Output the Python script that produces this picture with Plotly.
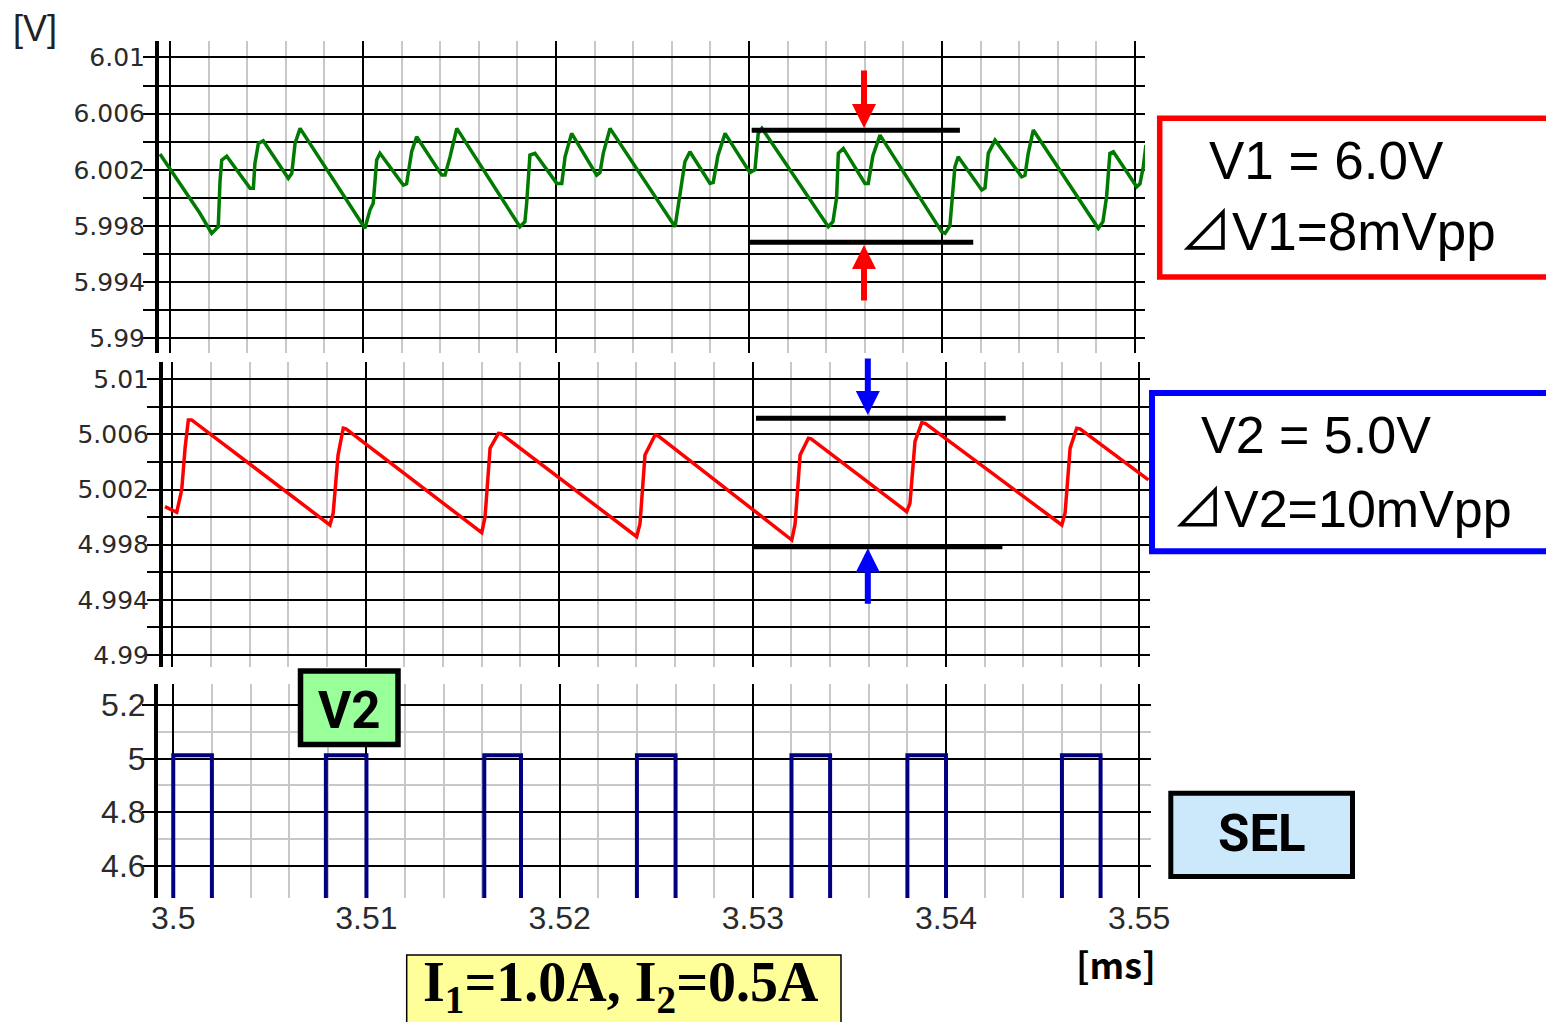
import plotly.graph_objects as go

W, H = 1546, 1022

# ---- V1 output ripple (time in ms, voltage in V) ----
v1_time = [3.49948, 3.50155, 3.50216, 3.50250, 3.50259, 3.50268, 3.50294, 3.50415, 3.50432, 3.50440,
           3.50458, 3.50483, 3.50613, 3.50631, 3.50648, 3.50674,
           3.51010, 3.51036, 3.51053, 3.51071, 3.51088, 3.51209, 3.51226, 3.51252, 3.51278, 3.51408,
           3.51425, 3.51451, 3.51486,
           3.51813, 3.51839, 3.51848, 3.51865, 3.51891, 3.52004, 3.52030, 3.52047, 3.52081, 3.52211,
           3.52228, 3.52245, 3.52280,
           3.52617, 3.52634, 3.52668, 3.52694, 3.52798, 3.52815, 3.52839, 3.52876, 3.53005, 3.53031,
           3.53048, 3.53067,
           3.53411, 3.53435, 3.53454, 3.53463, 3.53489, 3.53601, 3.53618, 3.53642, 3.53679,
           3.53998, 3.54016, 3.54041, 3.54050, 3.54067, 3.54084, 3.54206, 3.54223, 3.54240, 3.54275,
           3.54413, 3.54430, 3.54447, 3.54473,
           3.54810, 3.54834, 3.54853, 3.54870, 3.54888, 3.55009, 3.55026, 3.55043, 3.55057]
v1_volt = [6.00312, 5.99890, 5.99747, 5.99794, 6.00115, 6.00269, 6.00297, 6.00068, 6.00068, 6.00245,
           6.00388, 6.00406, 6.00139, 6.00174, 6.00388, 6.00495,
           5.99783, 5.99913, 5.99961, 6.00269, 6.00317, 6.00091, 6.00100, 6.00328, 6.00435, 6.00162,
           6.00162, 6.00292, 6.00495,
           5.99794, 5.99830, 5.99961, 6.00305, 6.00317, 6.00103, 6.00103, 6.00292, 6.00459, 6.00162,
           6.00180, 6.00317, 6.00495,
           5.99794, 5.99949, 6.00257, 6.00328, 6.00103, 6.00110, 6.00300, 6.00459, 6.00180, 6.00200,
           6.00459, 6.00495,
           5.99794, 5.99830, 6.00000, 6.00317, 6.00352, 6.00103, 6.00103, 6.00300, 6.00447,
           5.99759, 5.99747, 5.99800, 5.99961, 6.00221, 6.00292, 6.00056, 6.00070, 6.00317, 6.00411,
           6.00150, 6.00160, 6.00317, 6.00483,
           5.99783, 5.99830, 6.00008, 6.00317, 6.00328, 6.00079, 6.00100, 6.00221, 6.00376]

# ---- V2 output ripple ----
v2_time = [3.49962, 3.50023, 3.50049, 3.50066, 3.50083, 3.50100,
           3.50815, 3.50832, 3.50857, 3.50884, 3.50898,
           3.51600, 3.51617, 3.51643, 3.51686, 3.51700,
           3.52401, 3.52418, 3.52444, 3.52496, 3.52512,
           3.53203, 3.53220, 3.53246, 3.53289, 3.53303,
           3.53797, 3.53814, 3.53840, 3.53875, 3.53893,
           3.54599, 3.54616, 3.54642, 3.54676, 3.54693,
           3.55047]
v2_volt = [5.00076, 5.00035, 5.00200, 5.00500, 5.00705, 5.00705,
           4.99943, 5.00030, 5.00450, 5.00645, 5.00640,
           4.99887, 5.00000, 5.00500, 5.00608, 5.00605,
           4.99858, 4.99950, 5.00450, 5.00596, 5.00590,
           4.99834, 4.99950, 5.00450, 5.00572, 5.00568,
           5.00040, 5.00100, 5.00550, 5.00685, 5.00680,
           4.99943, 5.00030, 5.00500, 5.00645, 5.00640,
           5.00270]

# ---- SEL gate pulses (ms) ----
sel_rise = [3.5000, 3.5079, 3.5161, 3.5240, 3.5320, 3.5380, 3.5460]
sel_fall = [3.5020, 3.5100, 3.5180, 3.5260, 3.5340, 3.5400, 3.5480]
sel_high = 5.012
sel_low = 0.0

# ---- axis ticks ----
time_ticks = [3.5, 3.51, 3.52, 3.53, 3.54, 3.55]
time_labels = ["3.5", "3.51", "3.52", "3.53", "3.54", "3.55"]
v1_ticks = [5.99, 5.992, 5.994, 5.996, 5.998, 6.0, 6.002, 6.004, 6.006, 6.008, 6.01]
v1_labels = ["5.99", "", "5.994", "", "5.998", "", "6.002", "", "6.006", "", "6.01"]
v2_ticks = [4.99, 4.992, 4.994, 4.996, 4.998, 5.0, 5.002, 5.004, 5.006, 5.008, 5.01]
v2_labels = ["4.99", "", "4.994", "", "4.998", "", "5.002", "", "5.006", "", "5.01"]
sel_ticks = [4.6, 4.8, 5.0, 5.2]
sel_labels = ["4.6", "4.8", "5", "5.2"]
sel_minor = [4.7, 4.9, 5.1]


def px(x):
    return x / W


def py(y):
    return 1 - y / H


# step waveform for the SEL signal
sel_t = [3.49]
sel_v = [sel_low]
for r, f in zip(sel_rise, sel_fall):
    sel_t += [r, r, f, f]
    sel_v += [sel_low, sel_high, sel_high, sel_low]
sel_t.append(3.56)
sel_v.append(sel_low)

GRID_GRAY = "#c8c8c8"
TICK_FONT_SMALL = dict(family="DejaVu Sans", size=25, color="#2a2a2a")
TICK_FONT_BIG = dict(family="Liberation Sans", size=32, color="#2a2a2a")

fig = go.Figure()
fig.add_trace(go.Scatter(x=v1_time, y=v1_volt, mode="lines", xaxis="x", yaxis="y",
                         line=dict(color="#007a00", width=3.5), showlegend=False))
fig.add_trace(go.Scatter(x=v2_time, y=v2_volt, mode="lines", xaxis="x2", yaxis="y2",
                         line=dict(color="#ff0000", width=3.5), showlegend=False))
fig.add_trace(go.Scatter(x=sel_t, y=sel_v, mode="lines", xaxis="x3", yaxis="y3",
                         line=dict(color="#000080", width=4), showlegend=False))


def time_axis(x0, x1, rng, anchor, labels):
    return dict(domain=[px(x0), px(x1)], range=rng, anchor=anchor,
                tickmode="array", tickvals=time_ticks, ticktext=time_labels,
                showticklabels=labels, ticks="", tickfont=TICK_FONT_BIG, ticklabelstandoff=-2,
                showgrid=True, gridcolor="black", gridwidth=2,
                zeroline=False, showline=False,
                minor=dict(tickmode="linear", tick0=3.5, dtick=0.002, showgrid=True,
                           gridcolor=GRID_GRAY, gridwidth=2, ticks=""))


def volt_axis(y_top, y_bot, rng, anchor, vals, texts, font, standoff, minor=None):
    d = dict(domain=[py(y_bot), py(y_top)], range=rng, anchor=anchor,
             tickmode="array", tickvals=vals, ticktext=texts, tickfont=font,
             ticklabelstandoff=standoff,
             ticks="outside", ticklen=12, tickwidth=2, tickcolor="black",
             showgrid=True, gridcolor="black", gridwidth=2, zeroline=False,
             showline=True, linecolor="black", linewidth=4)
    if minor is not None:
        d["minor"] = dict(tickmode="array", tickvals=minor, showgrid=True,
                          gridcolor=GRID_GRAY, gridwidth=2, ticks="")
    return d


fig.update_layout(
    width=W, height=H, autosize=False, margin=dict(l=0, r=0, t=0, b=0, autoexpand=False),
    paper_bgcolor="white", plot_bgcolor="white", showlegend=False,
    xaxis=time_axis(159, 1145, [3.49943, 3.55052], "y", False),
    xaxis2=time_axis(163, 1150, [3.49952, 3.55055], "y2", False),
    xaxis3=time_axis(158, 1151, [3.49921, 3.55061], "y3", True),
    yaxis=volt_axis(41, 353, [5.98895, 6.01117], "x", v1_ticks, v1_labels, TICK_FONT_SMALL, -7),
    yaxis2=volt_axis(362, 667, [4.98913, 5.01125], "x2", v2_ticks, v2_labels, TICK_FONT_SMALL, -7),
    yaxis3=volt_axis(684, 898, [4.479, 5.2785], "x3", sel_ticks, sel_labels, TICK_FONT_BIG, -10,
                     minor=sel_minor),
)

shapes = []
# peak-to-peak marker bars
for xr, yr, t0, t1, v in [("x", "y", 3.53014, 3.54093, 6.00482),
                          ("x", "y", 3.53005, 3.54162, 5.99683),
                          ("x2", "y2", 3.53018, 3.54309, 5.00717),
                          ("x2", "y2", 3.53001, 3.54292, 4.99786)]:
    shapes.append(dict(type="line", xref=xr, yref=yr, x0=t0, x1=t1, y0=v, y1=v,
                       line=dict(color="black", width=5)))


def box(x0, y0, x1, y1, color, width, fill):
    return dict(type="rect", xref="paper", yref="paper",
                x0=px(x0), x1=px(x1), y0=py(y1), y1=py(y0),
                line=dict(color=color, width=width), fillcolor=fill, layer="above")


shapes += [
    box(1159.7, 118.2, 1565, 277, "#ff0000", 5.5, "white"),
    box(1152, 393, 1565, 551.2, "#0000ff", 6, "white"),
    box(300.5, 671, 398, 744.5, "black", 5.5, "#99ff99"),
    box(1170.8, 793.2, 1352.5, 876.5, "black", 5, "#cce9fc"),
    box(406.7, 955, 841, 1040, "black", 1.5, "#ffff99"),
]
fig.update_layout(shapes=shapes)

ann = []
# ripple arrows
for xr, yr, t, v, ay, col in [("x", "y", 3.53596, 6.00497, -59, "#ff0000"),
                              ("x", "y", 3.53596, 5.99664, 57, "#ff0000"),
                              ("x2", "y2", 3.53596, 5.00741, -58, "#0000ff"),
                              ("x2", "y2", 3.53596, 4.99774, 57, "#0000ff")]:
    ann.append(dict(xref=xr, yref=yr, x=t, y=v, ax=0, ay=ay, text="", showarrow=True,
                    arrowhead=2, arrowsize=0.8, arrowwidth=6, arrowcolor=col, standoff=0))


def label(x, y, text, font, anchor="left"):
    return dict(xref="paper", yref="paper", x=px(x), y=py(y), text=text, showarrow=False,
                xanchor=anchor, yanchor="middle", font=font)


BOX_FONT = "Liberation Sans, Noto Sans CJK JP"
ann += [
    label(11, 28, "[V]", dict(family="Liberation Sans", size=36, color="#222222")),
    label(1074, 963, "[ms]", dict(family="Noto Sans CJK JP", size=36, color="black", weight="bold")),
    label(1207, 161, "V1 = 6.0V", dict(family=BOX_FONT, size=53, color="black")),
    label(1177, 231, "⊿V1=8mVpp", dict(family=BOX_FONT, size=53, color="black")),
    label(1199, 435, "V2 = 5.0V", dict(family=BOX_FONT, size=52, color="black")),
    label(1170, 509, "⊿V2=10mVpp", dict(family=BOX_FONT, size=52, color="black")),
    label(349.4, 710, "V2", dict(family="Roboto", size=51, color="black", weight="bold"), "center"),
    label(1262, 833.5, "SEL", dict(family="Roboto", size=51, color="black", weight="bold"), "center"),
    label(421, 986, "I<sub>1</sub>=1.0A, I<sub>2</sub>=0.5A",
          dict(family="Liberation Serif", size=56, color="black", weight="bold")),
]
fig.update_layout(annotations=ann)

# keep the page free of margins and scrollbars so the figure fills the window exactly
page_fix = ("document.documentElement.style.overflow='hidden';"
            "document.body.style.margin='0';document.body.style.overflow='hidden';")
fig.write_html("out.html", config={"responsive": False}, post_script=page_fix)
